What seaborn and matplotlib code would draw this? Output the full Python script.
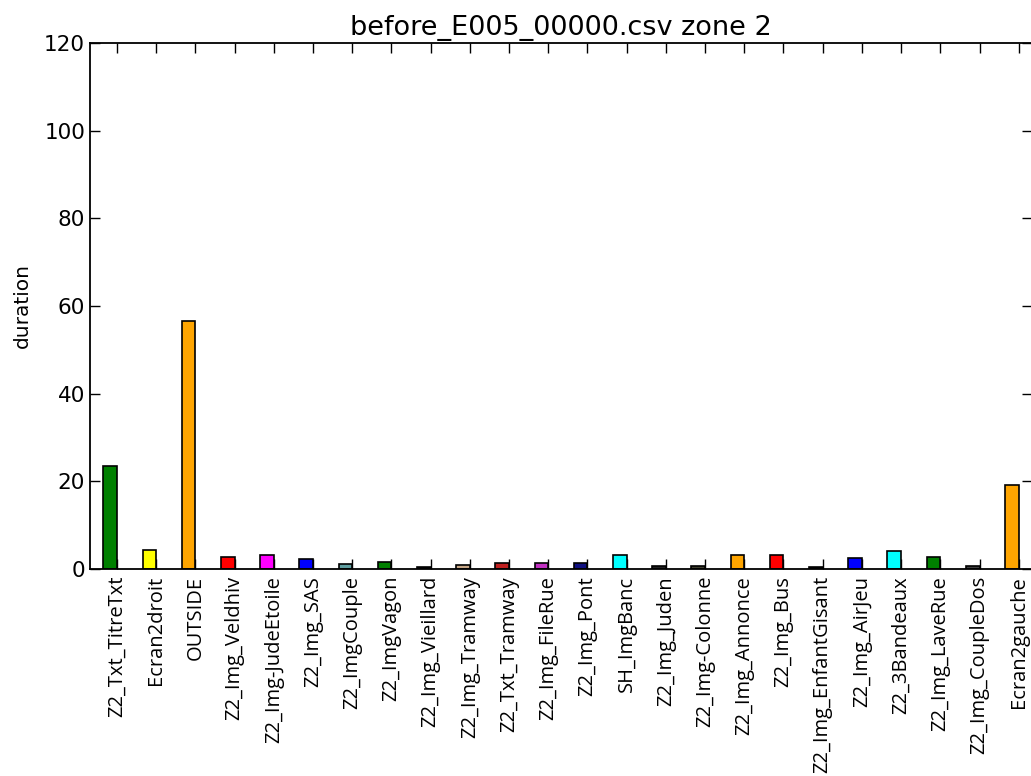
import numpy as np
import pandas as pd
import seaborn as sns
import matplotlib
matplotlib.use("Agg")
import matplotlib.pyplot as plt

# data
labels = ["Z2_Txt_TitreTxt", "Ecran2droit", "OUTSIDE", "Z2_Img_Veldhiv",
          "Z2_Img-JudeEtoile", "Z2_Img_SAS", "Z2_ImgCouple", "Z2_ImgVagon",
          "Z2_Img_Vieillard", "Z2_Img_Tramway", "Z2_Txt_Tramway", "Z2_Img_FileRue",
          "Z2_Img_Pont", "SH_ImgBanc", "Z2_Img_Juden", "Z2_Img-Colonne",
          "Z2_Img_Annonce", "Z2_Img_Bus", "Z2_Img_EnfantGisant", "Z2_Img_AirJeu",
          "Z2_3Bandeaux", "Z2_Img_LaveRue", "Z2_Img_CoupleDos", "Ecran2gauche"]
durations = [23.5, 4.3, 56.6, 2.8, 3.1, 2.2, 1.1, 1.6, 0.4, 1.0, 1.4, 1.3,
             1.3, 3.1, 0.7, 0.7, 3.1, 3.1, 0.4, 2.5, 4.0, 2.8, 0.6, 19.2]
colors = ["green", "yellow", "orange", "red", "magenta", "blue", "#5F9EA0",
          "green", "black", "#C8A888", "#C02020", "#C030C0", "#101080", "cyan",
          "#202020", "#404030", "orange", "red", "black", "blue", "cyan",
          "green", "#404040", "orange"]

title = "before_E005_00000.csv zone 2"
width = 0.35

sns.set_style("ticks")
plt.rcParams['font.family'] = ['DejaVu Sans']
plt.rcParams['text.color'] = 'black'
plt.rcParams['axes.labelcolor'] = 'black'
plt.rcParams['xtick.color'] = 'black'
plt.rcParams['ytick.color'] = 'black'
plt.rcParams['axes.edgecolor'] = 'black'
plt.rcParams['xtick.direction'] = 'in'
plt.rcParams['ytick.direction'] = 'in'

df = pd.DataFrame({"label": labels, "duration": durations})
# bars end at the tick (old edge-aligned bar style)
df["pos"] = np.arange(len(labels)) - width / 2

fig = plt.figure(figsize=(10.31, 7.76), dpi=100)
ax = fig.add_axes([0.0873, 0.2668, 0.9137, 0.6778])

sns.barplot(data=df, x="pos", y="duration", hue="label", palette=colors,
            native_scale=True, width=width, edgecolor="black", linewidth=1.2,
            saturation=1, legend=False, ax=ax)

ax.set_xticks(np.arange(len(labels)))
ax.set_xticklabels(labels, rotation=90, fontsize=14.5, family=["Open Sans", "DejaVu Sans"])
ax.set_xlim(-0.69, 23.34)
ax.set_ylim(0, 120)
ax.set_yticks(range(0, 121, 20))
ax.tick_params(axis="y", labelsize=15.5)
ax.tick_params(top=True, right=True, length=7, width=1)
ax.tick_params(axis="x", pad=5)
ax.set_xlabel("")
ax.set_ylabel("duration", fontsize=14.5, labelpad=9)
ax.set_title(title, fontsize=19.5, pad=6)
for s in ax.spines.values():
    s.set_linewidth(1.3)

fig.savefig("out.png", dpi=100)
